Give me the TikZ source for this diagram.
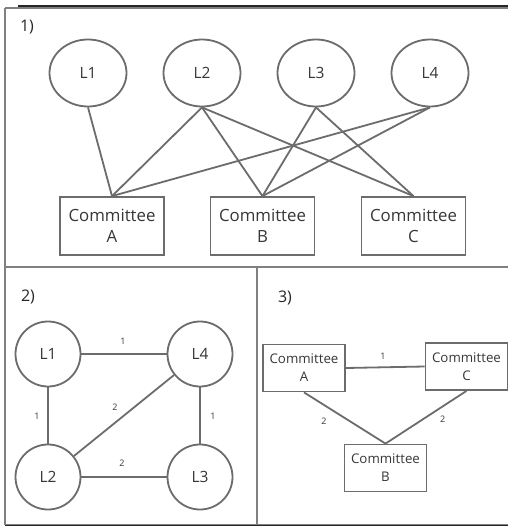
\documentclass[tikz,border=0pt]{standalone}
\usepackage{fontspec}
\setmainfont{Open Sans}
\usetikzlibrary{shapes.geometric}
\definecolor{linegray}{RGB}{108,108,108}
\definecolor{framegray}{RGB}{128,128,128}
\definecolor{textgray}{RGB}{55,55,55}
\begin{document}
\begin{tikzpicture}[x=1pt,y=-1pt,
  link/.style={draw=linegray,line width=1.8pt},
  frameline/.style={draw=framegray,line width=1.6pt},
  edgeshadow/.style={draw=black!85,line width=1.4pt},
  legis/.style={ellipse,draw=linegray,line width=1.8pt,fill=white,text=textgray,
    minimum width=77pt,minimum height=67pt,inner sep=0pt,font=\fontsize{15.5}{18}\selectfont},
  legcircle/.style={circle,draw=linegray,line width=1.8pt,fill=white,text=textgray,
    minimum size=65pt,inner sep=0pt,font=\fontsize{15.5}{18}\selectfont},
  bigbox/.style={rectangle,draw=linegray,line width=1.8pt,fill=white,text=textgray,
    minimum width=104pt,minimum height=58pt,inner sep=0pt,align=center,
    font=\fontsize{16.8}{21}\selectfont},
  smallbox/.style={rectangle,draw=linegray,line width=1.8pt,fill=white,text=textgray,
    minimum width=82pt,minimum height=47pt,inner sep=0pt,align=center,
    font=\fontsize{13.3}{18}\selectfont},
  weight/.style={text=textgray,font=\fontsize{9}{10}\selectfont,inner sep=0pt},
  panellabel/.style={text=black!85,font=\fontsize{16}{18}\selectfont,inner sep=0pt}
]
\useasboundingbox (0,0) rectangle (508,527);
\fill[white] (0,0) rectangle (508,527);

% panel frame
\draw[edgeshadow] (18,6.2) -- (508,6.2);
\draw[edgeshadow] (5,525.6) -- (508,525.6);
\draw[frameline] (5,8) -- (508,8);
\draw[frameline] (5,8) -- (5,524.5);
\draw[frameline] (5,524.5) -- (508,524.5);
\draw[frameline] (5,267) -- (508,267);
\draw[frameline] (257,267) -- (257,524.5);

% panel 1: legislators and committees
\node[panellabel] (p1) at (27,27) {1)};
\node[legis] (a1) at (88,73) {L1};
\node[legis] (a2) at (202,73) {L2};
\node[legis] (a3) at (316,73) {L3};
\node[legis] (a4) at (430,73) {L4};
\node[bigbox] (ca) at (112,226) {Committee\\A};
\node[bigbox] (cb) at (262.5,226) {Committee\\B};
\node[bigbox] (cc) at (413.5,226) {Committee\\C};
\draw[link] (a1.south) -- (ca.north);
\draw[link] (a2.south) -- (ca.north);
\draw[link] (a2.south) -- (cb.north);
\draw[link] (a2.south) -- (cc.north);
\draw[link] (a3.south) -- (cb.north);
\draw[link] (a3.south) -- (cc.north);
\draw[link] (a4.south) -- (ca.north);
\draw[link] (a4.south) -- (cb.north);

% panel 2: legislator graph
\node[panellabel] (p2) at (28,297) {2)};
\node[legcircle] (b1) at (48,354) {L1};
\node[legcircle] (b4) at (200,354) {L4};
\node[legcircle] (b2) at (48,477) {L2};
\node[legcircle] (b3) at (200,477) {L3};
\draw[link] (b1) -- (b4);
\draw[link] (b1) -- (b2);
\draw[link] (b4) -- (b3);
\draw[link] (b2) -- (b4);
\draw[link] (b2) -- (b3);
\node[weight] (w14) at (123,341) {1};
\node[weight] (w12) at (37,416) {1};
\node[weight] (w43) at (213,416) {1};
\node[weight] (w24) at (115,407) {2};
\node[weight] (w23) at (122,463) {2};

% panel 3: committee graph
\node[panellabel] (p3) at (285,298) {3)};
\node[smallbox] (da) at (304,368) {Committee\\A};
\node[smallbox] (dc) at (466.5,366.5) {Committee\\C};
\node[smallbox] (db) at (385.5,468) {Committee\\B};
\draw[link] (da.east) -- (dc.west);
\draw[link] (da.south) -- (db.north);
\draw[link] (dc.south) -- (db.north);
\node[weight] (wac) at (383,356) {1};
\node[weight] (wab) at (324,421) {2};
\node[weight] (wcb) at (442.7,419) {2};
\end{tikzpicture}
\end{document}
